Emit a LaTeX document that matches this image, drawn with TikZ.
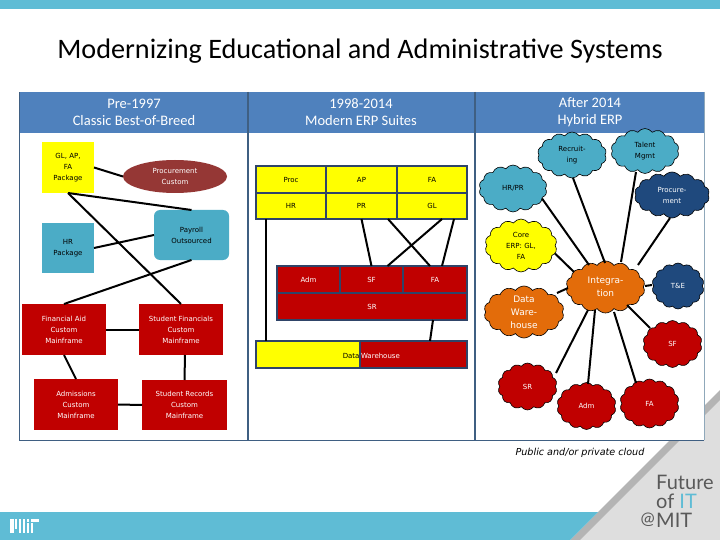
\documentclass[tikz,border=0pt]{standalone}
\usepackage{fontspec}
\setmainfont{DejaVu Sans}
\newfontfamily\titlefont{Carlito}
\newfontfamily\logofont{Lato}
\usetikzlibrary{shapes.geometric,shapes.symbols}
\definecolor{strip}{HTML}{5FBCD5}
\definecolor{hdr}{HTML}{4F81BD}
\definecolor{rule}{HTML}{3F5F82}
\definecolor{ruleb}{HTML}{8FA8BA}
\definecolor{cellline}{HTML}{2F4468}
\definecolor{redbox}{HTML}{C00000}
\definecolor{yelbox}{HTML}{FFFF00}
\definecolor{tealbox}{HTML}{4BACC6}
\definecolor{brick}{HTML}{953735}
\definecolor{navycl}{HTML}{1F497D}
\definecolor{orangecl}{HTML}{E36C0A}
\definecolor{wedge}{HTML}{DEDEDE}
\definecolor{wedgeb}{HTML}{B4B4B4}
\tikzset{
  boxn/.style={inner sep=0pt,outer sep=0pt,align=center,font=\fontsize{7}{11}\selectfont},
  cell/.style={boxn,draw=cellline,line width=1.2pt},
  conn/.style={line width=2pt,black},
  cl/.style={cloud,cloud puffs=14,cloud puff arc=110,cloud ignores aspect,draw=black,line width=0.6pt,
     inner sep=0pt,outer sep=0pt,align=center,font=\fontsize{7}{11}\selectfont},
  headt/.style={inner sep=0pt,align=center,text=white,font=\titlefont\fontsize{14.5}{17}\selectfont},
}
\begin{document}
\begin{tikzpicture}[x=1pt,y=-1pt]
\useasboundingbox (0,0) rectangle (720,540);
\fill[white] (0,0) rectangle (720,540);
% page decoration
\fill[strip] (0,0) rectangle (720,9);
\fill[wedge] (720,400) -- (720,540) -- (580,540) -- cycle;
\fill[wedgeb] (720,390) -- (720,400) -- (580,540) -- (570,540) -- cycle;
\fill[strip] (0,512) -- (598,512) -- (570,540) -- (0,540) -- cycle;
% title
\node[inner sep=0pt,font=\titlefont\fontsize{28.2}{30}\selectfont] (title) at (360,51.5) {Modernizing Educational and Administrative Systems};
% table
\fill[white] (19,92) rectangle (704,440);
\fill[hdr] (19,92) rectangle (704,133);
\draw[ruleb,line width=1pt] (704,92) -- (704,440);
\draw[rule,line width=1pt] (704,440) -- (19,440) -- (19,92);
\draw[rule,line width=1.4pt] (248,92) -- (248,440);
\draw[rule,line width=1.4pt] (475,92) -- (475,440);
\node[headt] (h1) at (134,112) {Pre-1997\\Classic Best-of-Breed};
\node[headt] (h2) at (361,112) {1998-2014\\Modern ERP Suites};
\node[headt] (h3) at (590,112) {After 2014\\Hybrid ERP};
% left column
\node[boxn,fill=yelbox,minimum width=52pt,minimum height=51pt] (gl) at (68,167.5) {GL, AP,\\FA\\Package};
\node[boxn,ellipse,fill=brick,text=white,minimum width=104pt,minimum height=33pt] (proc) at (175,176.5) {Procurement\\Custom};
\node[boxn,rounded corners=6pt,fill=tealbox,minimum width=75pt,minimum height=50pt] (pay) at (191.5,235) {Payroll\\Outsourced};
\node[boxn,fill=tealbox,minimum width=52pt,minimum height=50pt] (hr) at (68,248) {HR\\Package};
\node[boxn,fill=redbox,text=white,minimum width=84pt,minimum height=51pt] (fin) at (64,329.5) {Financial Aid\\Custom\\Mainframe};
\node[boxn,fill=redbox,text=white,minimum width=84pt,minimum height=51pt] (sf) at (181,329.5) {Student Financials\\Custom\\Mainframe};
\node[boxn,fill=redbox,text=white,minimum width=84pt,minimum height=51pt] (adm) at (76,404.5) {Admissions\\Custom\\Mainframe};
\node[boxn,fill=redbox,text=white,minimum width=85pt,minimum height=50pt] (sr) at (184.5,405) {Student Records\\Custom\\Mainframe};
\draw[conn] (gl.east) -- (proc.west);
\draw[conn] (gl.south) -- (pay.north);
\draw[conn] (gl.south) -- (sf.north);
\draw[conn] (hr.east) -- (pay.west);
\draw[conn] (pay.south) -- (fin.north);
\draw[conn] (fin.east) -- (sf.west);
\draw[conn] (fin.south) -- (adm.north);
\draw[conn] ([xshift=4pt]sf.south) -- (sr.north);
\draw[conn] (adm.east) -- (sr.west);
% middle column
\node[cell,fill=yelbox,minimum width=70pt,minimum height=27pt] (mproc) at (291,179.5) {Proc};
\node[cell,fill=yelbox,minimum width=71pt,minimum height=27pt] (map) at (361.5,179.5) {AP};
\node[cell,fill=yelbox,minimum width=70pt,minimum height=27pt] (mfa) at (432,179.5) {FA};
\node[cell,fill=yelbox,minimum width=70pt,minimum height=26pt] (mhr) at (291,206) {HR};
\node[cell,fill=yelbox,minimum width=71pt,minimum height=26pt] (mpr) at (361.5,206) {PR};
\node[cell,fill=yelbox,minimum width=70pt,minimum height=26pt] (mgl) at (432,206) {GL};
\node[cell,fill=redbox,text=white,minimum width=63pt,minimum height=27pt] (radm) at (308.5,279.5) {Adm};
\node[cell,fill=redbox,text=white,minimum width=63pt,minimum height=27pt] (rsf) at (371.5,279.5) {SF};
\node[cell,fill=redbox,text=white,minimum width=64pt,minimum height=27pt] (rfa) at (435,279.5) {FA};
\node[cell,fill=redbox,text=white,minimum width=190pt,minimum height=27pt] (rsr) at (372,306.5) {SR};
\node[cell,fill=yelbox,minimum width=104pt,minimum height=27pt] (dwy) at (308,354.5) {};
\node[cell,fill=redbox,minimum width=107pt,minimum height=27pt] (dwr) at (413.5,354.5) {};
\node[boxn,anchor=east] (dwa) at (359.5,356) {Data};
\node[boxn,anchor=west,text=white] (dwb) at (361,356) {Warehouse};
\draw[conn] ([xshift=-25pt]mhr.south) -- ([xshift=-42pt]dwy.north);
\draw[conn] (mpr.south) -- (rsf.north);
\draw[conn] ([xshift=-44pt]mgl.south) -- ([xshift=-5pt]rfa.north);
\draw[conn] ([xshift=10pt]mgl.south) -- ([xshift=16pt]rsf.north);
\draw[conn] ([xshift=22pt]mgl.south) -- ([xshift=7pt]rfa.north);
\draw[conn] ([xshift=61pt]rsr.south) -- ([xshift=16.5pt]dwr.north);
% right column
\node[cl,fill=tealbox,minimum width=68pt,minimum height=47pt] (chr) at (513,188.5) {HR/PR};
\node[cl,fill=tealbox,minimum width=69pt,minimum height=46pt] (crec) at (572,155) {Recruit-\\ing};
\node[cl,fill=tealbox,minimum width=68pt,minimum height=45pt] (ctal) at (645,151) {Talent\\Mgmt};
\node[cl,fill=navycl,text=white,minimum width=75pt,minimum height=46pt] (cpro) at (672,195) {Procure-\\ment};
\node[cl,fill=yelbox,minimum width=72pt,minimum height=53pt] (ccore) at (521,245.5) {Core\\ERP: GL,\\FA};
\node[cl,fill=orangecl,text=white,minimum width=79pt,minimum height=52pt,font=\fontsize{9}{13}\selectfont] (cint) at (605.5,287) {Integra-\\tion};
\node[cl,fill=orangecl,text=white,minimum width=80pt,minimum height=52pt,font=\fontsize{9}{13}\selectfont] (cdw) at (524,312) {Data\\Ware-\\house};
\node[cl,fill=navycl,text=white,minimum width=52pt,minimum height=46pt] (cte) at (678,286) {T\&E};
\node[cl,fill=redbox,text=white,minimum width=59pt,minimum height=47pt] (csf) at (672.5,344) {SF};
\node[cl,fill=redbox,text=white,minimum width=59pt,minimum height=47pt] (csr) at (527.5,386.5) {SR};
\node[cl,fill=redbox,text=white,minimum width=59pt,minimum height=47pt] (cadm) at (586.5,406) {Adm};
\node[cl,fill=redbox,text=white,minimum width=59pt,minimum height=49pt] (cfa) at (649.5,403.5) {FA};
\draw[conn] ([shift={(29,10)}]chr.center) -- ([shift={(-16.5,-22)}]cint.center);
\draw[conn] ([shift={(1,23)}]crec.center) -- ([shift={(-0.5,-24)}]cint.center);
\draw[conn] ([shift={(-9,21)}]ctal.center) -- ([shift={(15.5,-25)}]cint.center);
\draw[conn] ([shift={(-2,23)}]cpro.center) -- ([shift={(32.5,-22)}]cint.center);
\draw[conn] ([shift={(34,8)}]ccore.center) -- ([shift={(-31.5,-15)}]cint.center);
\draw[conn] ([shift={(33,-19)}]cdw.center) -- ([shift={(-37.5,1)}]cint.center);
\draw[conn] ([shift={(39.5,-1)}]cint.center) -- ([shift={(-26,-1)}]cte.center);
\draw[conn] ([shift={(21.5,18)}]cint.center) -- ([shift={(-22.5,-16)}]csf.center);
\draw[conn] ([shift={(-17.5,23)}]cint.center) -- ([shift={(28.5,-13.5)}]csr.center);
\draw[conn] ([shift={(-10.5,23)}]cint.center) -- ([shift={(1.5,-22)}]cadm.center);
\draw[conn] ([shift={(8.5,25)}]cint.center) -- ([shift={(-13.5,-20.5)}]cfa.center);
\node[inner sep=0pt,font=\itshape\fontsize{9.6}{12}\selectfont] (pub) at (580,453) {Public and/or private cloud};
% logos
\node[anchor=west,inner sep=0pt,text=black!65,font=\logofont\fontsize{20}{20}\selectfont] (fu) at (656,482) {Future};
\node[anchor=west,inner sep=0pt,text=black!65,font=\logofont\fontsize{20}{20}\selectfont] (of) at (656,501) {of \textcolor{strip}{IT}};
\node[anchor=east,inner sep=0pt,text=black!65,font=\logofont\fontsize{17}{17}\selectfont] (at) at (655,520) {@};
\node[anchor=west,inner sep=0pt,text=black!65,font=\logofont\fontsize{20}{20}\selectfont] (mit) at (656,520) {MIT};
\fill[white] (10,519) rectangle (13.5,533);
\fill[white] (15,519) rectangle (17,529);
\fill[white] (18.5,519) rectangle (21,533);
\fill[white] (23,519) rectangle (25,533);
\fill[white] (27,523) rectangle (29,533);
\fill[white] (27,519) rectangle (29,521.5);
\fill[white] (31,519) rectangle (39,521.5);
\fill[white] (31,523) rectangle (33,533);
\end{tikzpicture}
\end{document}
